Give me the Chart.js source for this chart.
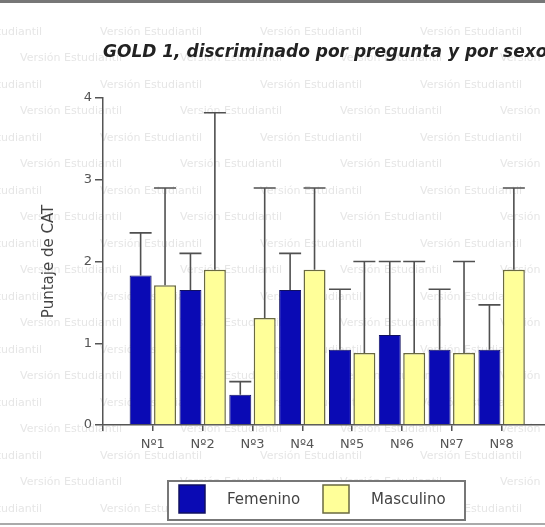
<!DOCTYPE html>
<html>
<head>
<meta charset="utf-8">
<script src="https://cdn.jsdelivr.net/npm/chart.js@4"></script>
<style>
  html, body { margin: 0; padding: 0; background: #fff; }
  #wrap { width: 545px; height: 527px; }
</style>
</head>
<body>
<div id="wrap"><canvas id="myChart" width="545" height="527"></canvas></div>
<script>
const categories = ["Nº1", "Nº2", "Nº3", "Nº4", "Nº5", "Nº6", "Nº7", "Nº8"];
const femenino = [1.83, 1.65, 0.37, 1.65, 0.92, 1.10, 0.92, 0.92];
const masculino = [1.71, 1.90, 1.31, 1.90, 0.88, 0.88, 0.88, 1.90];
// upper end of the error bars
const femeninoErr = [2.35, 2.10, 0.53, 2.10, 1.66, 2.00, 1.66, 1.47];
const masculinoErr = [2.90, 3.82, 2.90, 2.90, 2.00, 2.00, 2.00, 2.90];
const yTicks = [0, 1, 2, 3, 4];
const titleText = "GOLD 1, discriminado por pregunta y por sexo";

const FONT = "'DejaVu Sans', sans-serif";

const watermark = {
    id: 'watermark',
    beforeDraw(chart) {
        const c = chart.ctx;
        c.save();
        c.fillStyle = '#fff';
        c.fillRect(0, 0, chart.width, chart.height);
        c.font = '11px ' + FONT;
        c.fillStyle = '#e6e6e6';
        c.textBaseline = 'middle';
        for (let r = 0; r < 20; r++) {
            const y = 32 + r * 26.5;
            const shift = (r % 2 === 0) ? -60 : 20;
            for (let x = shift; x < chart.width; x += 160) {
                c.fillText('Versión Estudiantil', x, y);
            }
        }
        // frame lines
        c.fillStyle = '#777';
        c.fillRect(0, 0, chart.width, 3);
        c.fillStyle = '#aaa';
        c.fillRect(0, 523, chart.width, 2);
        c.restore();
    }
};

const errorBars = {
    id: 'errorBars',
    afterDatasetsDraw(chart) {
        const c = chart.ctx;
        const yScale = chart.scales.y;
        const errs = [femeninoErr, masculinoErr];
        c.save();
        c.strokeStyle = '#505050';
        c.lineWidth = 1.6;
        chart.data.datasets.forEach((ds, i) => {
            chart.getDatasetMeta(i).data.forEach((bar, j) => {
                const top = yScale.getPixelForValue(errs[i][j]);
                c.beginPath();
                c.moveTo(bar.x, bar.y);
                c.lineTo(bar.x, top);
                c.moveTo(bar.x - 11, top);
                c.lineTo(bar.x + 11, top);
                c.stroke();
            });
        });
        c.restore();
    }
};

const titleAndLegend = {
    id: 'titleAndLegend',
    afterDraw(chart) {
        const c = chart.ctx;
        c.save();
        c.fillStyle = '#222';
        c.font = 'italic bold 17px ' + FONT;
        c.textBaseline = 'middle';
        c.fillText(titleText, chart.chartArea.left, 53);

        // legend box
        c.strokeStyle = '#777';
        c.lineWidth = 2;
        c.fillStyle = '#fff';
        c.fillRect(168, 481, 297, 39);
        c.strokeRect(168, 481, 297, 39);
        const items = [
            { x: 179, tx: 227 },
            { x: 323, tx: 371 }
        ];
        chart.data.datasets.forEach((ds, i) => {
            const it = items[i];
            c.fillStyle = ds.backgroundColor;
            c.fillRect(it.x, 485, 26, 28);
            c.lineWidth = 1.5;
            c.strokeStyle = ds.borderColor;
            c.strokeRect(it.x, 485, 26, 28);
            c.fillStyle = '#444';
            c.font = '15px ' + FONT;
            c.textBaseline = 'middle';
            c.fillText(ds.label, it.tx, 500);
        });
        c.restore();
    }
};

const ctx = document.getElementById('myChart');
let myChart = new Chart(ctx, {
    type: 'bar',
    data: {
        datasets: [
            {
                label: "Femenino",
                backgroundColor: "#0a0ab4",
                borderColor: "#101060",
                borderWidth: 1,
                data: femenino.map((v, i) => ({ x: i + 1, y: v })),
            },
            {
                label: "Masculino",
                backgroundColor: "#ffff99",
                borderColor: "#6a6a40",
                borderWidth: 1.5,
                data: masculino.map((v, i) => ({ x: i + 1, y: v })),
            }
        ]
    },
    options: {
        responsive: false,
        devicePixelRatio: 1,
        animation: false,
        categoryPercentage: 0.98,
        barPercentage: 0.9,
        layout: { padding: { left: 36, right: 0, top: 98, bottom: 0 } },
        plugins: {
            legend: { display: false },
            tooltip: { enabled: false }
        },
        scales: {
            x: {
                type: 'linear',
                offset: false,
                min: 0,
                max: 8.87,
                afterFit(scale) { scale.height = 102; },
                afterBuildTicks(scale) {
                    scale.ticks = [0, 1, 2, 3, 4, 5, 6, 7, 8].map(v => ({ value: v }));
                },
                ticks: {
                    callback: (v) => (v >= 1 && v <= 8) ? categories[v - 1] : '',
                    font: { family: FONT, size: 13 },
                    color: '#555',
                    padding: 6,
                    maxRotation: 0,
                    autoSkip: false
                },
                grid: { offset: false, drawOnChartArea: false, drawTicks: true, tickLength: 6, color: '#555', lineWidth: 1.5 },
                border: { display: true, color: '#555', width: 1.5 }
            },
            y: {
                min: 0,
                max: 4,
                afterFit(scale) { scale.width = 67; },
                afterBuildTicks(scale) {
                    scale.ticks = yTicks.map(v => ({ value: v }));
                },
                ticks: {
                    font: { family: FONT, size: 13 },
                    color: '#555',
                    padding: 3
                },
                title: {
                    display: true,
                    text: 'Puntaje de CAT',
                    font: { family: FONT, size: 15 },
                    color: '#444'
                },
                grid: { drawOnChartArea: false, drawTicks: true, tickLength: 8, color: '#555', lineWidth: 1.5 },
                border: { display: true, color: '#555', width: 1.5 }
            }
        }
    },
    plugins: [watermark, errorBars, titleAndLegend]
});
</script>
</body>
</html>
